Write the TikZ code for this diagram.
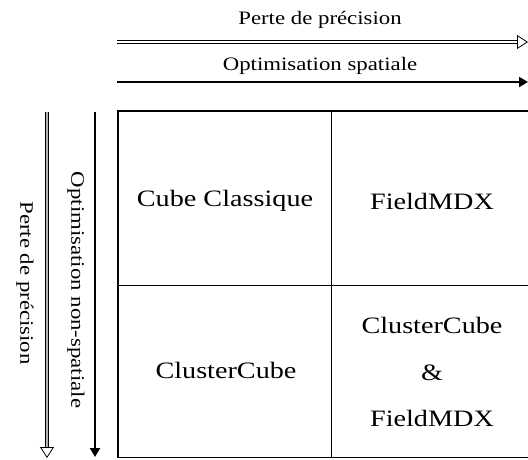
\documentclass[tikz,border=0pt]{standalone}
\usepackage{fontspec}
\setmainfont{Liberation Serif}
\newfontfamily\widefont[FakeStretch=1.2]{Liberation Serif}
\usetikzlibrary{arrows.meta}
\begin{document}
\begin{tikzpicture}[x=1pt,y=-1pt,
  lbl/.style={inner sep=0pt, font=\widefont\fontsize{19}{22}\selectfont},
  cell/.style={inner sep=0pt, align=center, font=\widefont\fontsize{23.5}{46.5}\selectfont},
  hollowarrow/.style={draw=black, line width=0.8pt, double=white, double distance=2pt, -{Triangle[open, length=11pt, width=14pt, line width=0.8pt]}},
  blackarrow/.style={draw=black, line width=2pt, -{Triangle[length=9pt, width=10pt]}},
  thickline/.style={line width=2.5pt},
  thinline/.style={line width=1pt}]
\useasboundingbox (0,0) rectangle (528,459);
\fill[white] (0,0) rectangle (528,459);
% coordinates
\coordinate (h1s) at (117,42);
\coordinate (h1e) at (528,42);
\coordinate (h2s) at (117,82);
\coordinate (h2e) at (528,82);
\coordinate (v1s) at (47,112);
\coordinate (v1e) at (47,458);
\coordinate (v2s) at (95,112);
\coordinate (v2e) at (95,457);
% arrows
\draw[hollowarrow] (h1s) -- (h1e);
\draw[blackarrow] (h2s) -- (h2e);
\draw[hollowarrow, double=gray!60] (v1s) -- (v1e);
\draw[blackarrow] (v2s) -- (v2e);
% labels
\node[lbl] (t1) at (320,20) {Perte de précision};
\node[lbl] (t2) at (320,66) {Optimisation spatiale};
\node[lbl, rotate=-90] (t3) at (25,283) {Perte de précision};
\node[lbl, rotate=-90] (t4) at (76,290) {Optimisation non-spatiale};
% table
\draw[thinline] (118,457) -- (528,457);
\draw[thinline] (118,285) -- (528,285);
\draw[thinline] (331,111) -- (331,457);
\draw[thickline] (118,457.5) -- (118,111) -- (528,111);
% cells
\node[cell] (c11) at (225,201) {Cube Classique};
\node[cell] (c12) at (432,201) {FieldMDX};
\node[cell] (c21) at (226,370) {ClusterCube};
\node[cell] (c22) at (432,372) {ClusterCube\\\&\\FieldMDX};
\end{tikzpicture}
\end{document}
